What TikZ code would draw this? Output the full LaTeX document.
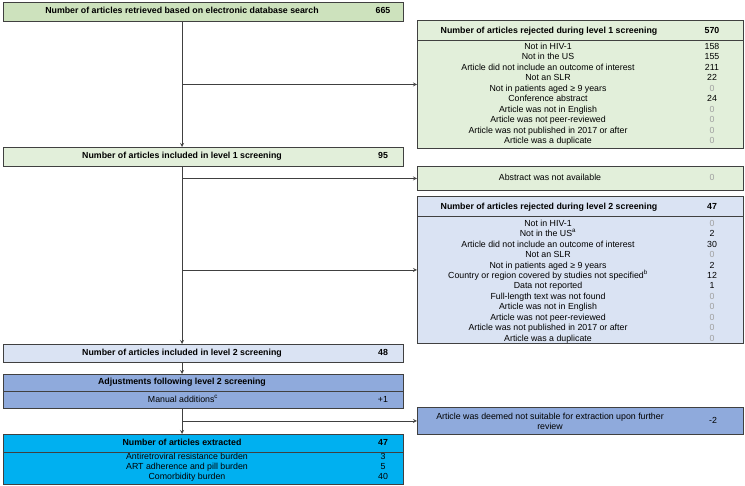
\documentclass[tikz,border=0pt]{standalone}
\usepackage{fontspec}
\setmainfont{Liberation Sans}
\usetikzlibrary{arrows,positioning,calc}
\definecolor{greenhead}{RGB}{205,226,189}
\definecolor{greenbox}{RGB}{226,239,218}
\definecolor{bluebox}{RGB}{218,227,243}
\definecolor{blueadj}{RGB}{143,170,220}
\definecolor{cyanbox}{RGB}{0,176,240}
\definecolor{zerogray}{RGB}{160,160,160}
\definecolor{edgegray}{RGB}{64,64,64}

\begin{document}
\begin{tikzpicture}[x=1pt, y=-1pt,
    box/.style={rectangle, draw=edgegray, line width=0.9pt, anchor=north west, inner sep=0pt},
    head/.style={font=\fontsize{8.8}{10}\selectfont\bfseries, inner sep=0pt, text height=6.3pt, text depth=1.7pt},
    item/.style={font=\fontsize{8.8}{10}\selectfont, inner sep=0pt, text height=6.3pt, text depth=1.7pt},
    sep/.style={draw=edgegray, line width=0.9pt},
    flow/.style={draw=edgegray, ->, >=stealth, line width=0.8pt}
]
    \useasboundingbox (0,0) rectangle (745,486);

    % boxes
    \node[box, fill=greenhead, minimum width=400pt, minimum height=19pt] (search) at (3,2) {};
    \node[box, fill=greenbox, minimum width=326pt, minimum height=128pt] (rej1) at (417,20) {};
    \node[box, fill=greenbox, minimum width=400pt, minimum height=19pt] (inc1) at (3,147) {};
    \node[box, fill=greenbox, minimum width=326pt, minimum height=24pt] (abs) at (417,166) {};
    \node[box, fill=bluebox, minimum width=326pt, minimum height=147pt] (rej2) at (417,196) {};
    \node[box, fill=bluebox, minimum width=400pt, minimum height=18pt] (inc2) at (3,344) {};
    \node[box, fill=blueadj, minimum width=400pt, minimum height=34pt] (adj) at (3,374) {};
    \node[box, fill=blueadj, minimum width=326pt, minimum height=27pt] (deem) at (417,407) {};
    \node[box, fill=cyanbox, minimum width=400pt, minimum height=50pt] (extr) at (3,434) {};

    % header rules
    \draw[sep] (417,40) -- (743,40);
    \draw[sep] (417,216) -- (743,216);
    \draw[sep] (3,391) -- (403,391);
    \draw[sep] (3,452) -- (403,452);

    % left column
    \node[head] (searchlbl) at (182,11.5) {Number of articles retrieved based on electronic database search};
    \node[head] (searchnum) at (383,11.5) {665};
    \node[head] (inc1lbl) at (182,156.5) {Number of articles included in level 1 screening};
    \node[head] (inc1num) at (383,156.5) {95};
    \node[head] (inc2lbl) at (182,353) {Number of articles included in level 2 screening};
    \node[head] (inc2num) at (383,353) {48};
    \node[head] (adjlbl) at (182,382.5) {Adjustments following level 2 screening};
    \node[item] (manlbl) at (183,400) {Manual additions\textsuperscript{c}};
    \node[item] (mannum) at (383,400) {+1};
    \node[head] (extrlbl) at (182,443) {Number of articles extracted};
    \node[head] (extrnum) at (383,443) {47};
    \foreach \txt/\num [count=\i] in {Antiretroviral resistance burden/3,
        ART adherence and pill burden/5, Comorbidity burden/40}
    {
        \node[item] (exrow\i) at (187,457+10*\i-10) {\txt};
        \node[item] (exnum\i) at (383,457+10*\i-10) {\num};
    }

    % right column
    \node[head] (rej1lbl) at (549,31) {Number of articles rejected during level 1 screening};
    \node[head] (rej1num) at (712,31) {570};
    \foreach \txt/\num/\col [count=\i] in {Not in HIV-1/158/black,
        Not in the US/155/black,
        Article did not include an outcome of interest/211/black,
        Not an SLR/22/black,
        Not in patients aged ≥ 9 years/0/zerogray,
        Conference abstract/24/black,
        Article was not in English/0/zerogray,
        Article was not peer-reviewed/0/zerogray,
        Article was not published in 2017 or after/0/zerogray,
        Article was a duplicate/0/zerogray}
    {
        \node[item] (r1row\i) at (548,47+10.5*\i-10.5) {\txt};
        \node[item, text=\col] (r1num\i) at (712,47+10.5*\i-10.5) {\num};
    }
    \node[item] (abslbl) at (550,178) {Abstract was not available};
    \node[item, text=zerogray] (absnum) at (712,178) {0};
    \node[head] (rej2lbl) at (549,207) {Number of articles rejected during level 2 screening};
    \node[head] (rej2num) at (712,207) {47};
    \foreach \txt/\num/\col [count=\i] in {Not in HIV-1/0/zerogray,
        Not in the US\textsuperscript{a}/2/black,
        Article did not include an outcome of interest/30/black,
        Not an SLR/0/zerogray,
        Not in patients aged ≥ 9 years/2/black,
        Country or region covered by studies not specified\textsuperscript{b}/12/black,
        Data not reported/1/black,
        Full-length text was not found/0/zerogray,
        Article was not in English/0/zerogray,
        Article was not peer-reviewed/0/zerogray,
        Article was not published in 2017 or after/0/zerogray,
        Article was a duplicate/0/zerogray}
    {
        \node[item] (r2row\i) at (548,224+10.45*\i-10.45) {\txt};
        \node[item, text=\col] (r2num\i) at (712,224+10.45*\i-10.45) {\num};
    }
    \node[item, align=center, text height=, text depth=] (deemlbl) at (550,421) {Article was deemed not suitable for extraction upon further\\review};
    \node[item] (deemnum) at (713,421) {-2};

    % connectors
    \draw[flow] (searchlbl |- search.south) -- (searchlbl |- inc1.north);
    \draw[flow] (searchlbl |- rej1.west) -- (rej1.west);
    \draw[flow] (inc1lbl |- inc1.south) -- (inc1lbl |- inc2.north);
    \draw[flow] (inc1lbl |- abs.west) -- (abs.west);
    \draw[flow] (inc1lbl |- rej2.west) -- (rej2.west);
    \draw[flow] (inc2lbl |- inc2.south) -- (inc2lbl |- adj.north);
    \draw[flow] (adjlbl |- adj.south) -- (adjlbl |- extr.north);
    \draw[flow] (adjlbl |- deem.west) -- (deem.west);
\end{tikzpicture}
\end{document}
